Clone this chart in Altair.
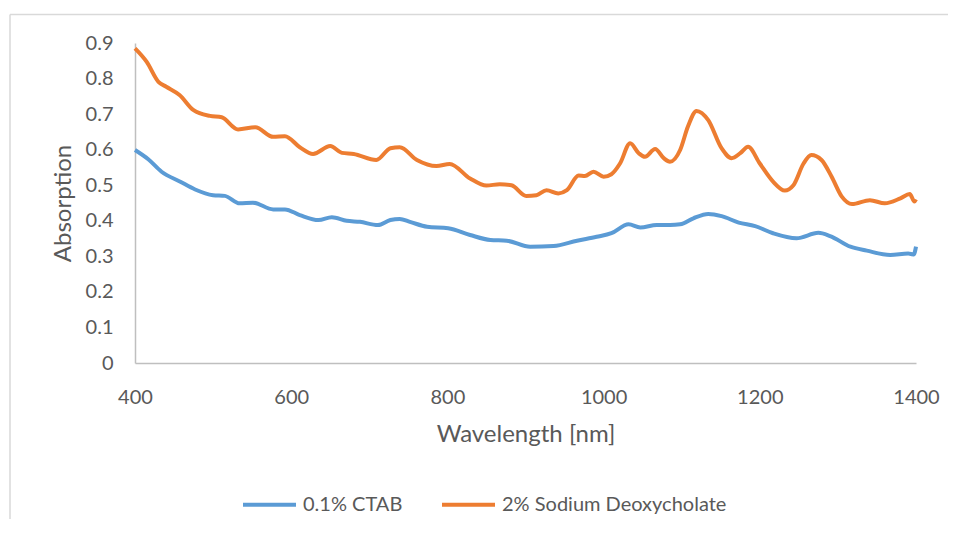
import altair as alt
import pandas as pd

series_names = ["0.1% CTAB", "2% Sodium Deoxycholate"]
series_colors = ["#5B9BD5", "#ED7D31"]

wl_ctab = [400, 417, 434, 458, 477, 500, 515, 534, 551, 577, 592, 611, 635, 652, 671, 688,
           711, 727, 739, 752, 774, 801, 829, 855, 876, 906, 936, 966, 991, 1010, 1032, 1047,
           1068, 1085, 1098, 1115, 1134, 1151, 1173, 1194, 1217, 1247, 1275, 1290, 1316, 1337,
           1367, 1390, 1395, 1397, 1400]
abs_ctab = [0.599, 0.573, 0.538, 0.510, 0.488, 0.472, 0.470, 0.449, 0.451, 0.432, 0.432, 0.416,
            0.402, 0.410, 0.400, 0.397, 0.388, 0.402, 0.405, 0.397, 0.383, 0.379, 0.360, 0.346,
            0.344, 0.327, 0.329, 0.344, 0.355, 0.365, 0.390, 0.381, 0.388, 0.388, 0.390, 0.407,
            0.419, 0.413, 0.395, 0.385, 0.365, 0.351, 0.366, 0.357, 0.327, 0.316, 0.304, 0.308,
            0.306, 0.305, 0.327]

wl_sdc = [400, 415, 430, 440, 457, 475, 496, 511, 532, 554, 577, 592, 611, 628, 650, 665, 680,
          709, 727, 739, 761, 786, 803, 829, 850, 867, 882, 901, 914, 927, 942, 953, 968, 976,
          987, 1000, 1010, 1021, 1034, 1045, 1053, 1066, 1077, 1085, 1098, 1108, 1119, 1134,
          1151, 1164, 1175, 1185, 1200, 1217, 1232, 1243, 1256, 1266, 1279, 1292, 1305, 1318,
          1341, 1360, 1380, 1392, 1398, 1400]
abs_sdc = [0.885, 0.847, 0.791, 0.777, 0.754, 0.711, 0.695, 0.691, 0.657, 0.663, 0.636, 0.638,
           0.607, 0.588, 0.610, 0.591, 0.588, 0.571, 0.604, 0.607, 0.571, 0.554, 0.560, 0.519,
           0.499, 0.503, 0.500, 0.470, 0.472, 0.486, 0.477, 0.486, 0.527, 0.526, 0.538, 0.524,
           0.531, 0.561, 0.618, 0.590, 0.580, 0.602, 0.576, 0.566, 0.599, 0.665, 0.709, 0.683,
           0.604, 0.576, 0.590, 0.608, 0.561, 0.510, 0.485, 0.500, 0.561, 0.585, 0.571, 0.524,
           0.468, 0.447, 0.458, 0.449, 0.463, 0.475, 0.454, 0.460]

x_ticks = [400, 600, 800, 1000, 1200, 1400]
y_ticks = [0, 0.1, 0.2, 0.3, 0.4, 0.5, 0.6, 0.7, 0.8, 0.9]

df = pd.concat([
    pd.DataFrame({"wavelength": wl_ctab, "absorption": abs_ctab, "series": series_names[0]}),
    pd.DataFrame({"wavelength": wl_sdc, "absorption": abs_sdc, "series": series_names[1]}),
])

FONT = "Lato"
TXT = "#595959"
AXC = "#BFBFBF"

lines = alt.Chart(df).mark_line(strokeWidth=4, interpolate="monotone").encode(
    x=alt.X("wavelength:Q",
            scale=alt.Scale(domain=[400, 1400], nice=False, zero=False),
            axis=alt.Axis(values=x_ticks, format="d", labelFlush=False,
                          title="Wavelength [nm]", ticks=False, tickSize=0,
                          grid=False, domainColor=AXC, domainWidth=1.5,
                          labelFont=FONT, labelFontSize=20, labelColor=TXT, labelPadding=24,
                          titleFont=FONT, titleFontSize=24, titleColor=TXT,
                          titleFontWeight="normal", titlePadding=15)),
    y=alt.Y("absorption:Q",
            scale=alt.Scale(domain=[0, 0.9], nice=False),
            axis=alt.Axis(values=y_ticks, format="~g", labelFlush=False,
                          title="Absorption", ticks=False,
                          tickSize=0, grid=False, domainColor=AXC, domainWidth=1.5,
                          labelFont=FONT, labelFontSize=20, labelColor=TXT, labelPadding=22,
                          titleFont=FONT, titleFontSize=24, titleColor=TXT,
                          titleFontWeight="normal", titlePadding=10)),
    color=alt.Color("series:N",
                    scale=alt.Scale(domain=series_names, range=series_colors),
                    legend=alt.Legend(title=None, orient="none", legendX=106, legendY=433,
                                      direction="horizontal", symbolType="stroke",
                                      symbolSize=2809, symbolStrokeWidth=4,
                                      labelFont=FONT, labelFontSize=20, labelColor=TXT,
                                      labelLimit=0, labelOffset=5, columnPadding=31,
                                      padding=0)),
)

frame_df = pd.DataFrame({"frame": [0]})
frame_left = alt.Chart(frame_df).mark_rule(color="#D9D9D9", strokeWidth=1.5).encode(
    x=alt.value(-125), y=alt.value(-28.5), y2=alt.value(480))
frame_top = alt.Chart(frame_df).mark_rule(color="#D9D9D9", strokeWidth=1.5).encode(
    x=alt.value(-125), x2=alt.value(820), y=alt.value(-28.5))

chart = alt.layer(frame_left, frame_top, lines).properties(
    width=781, height=320,
    autosize=alt.AutoSizeParams(type="none"),
    padding={"left": 127, "top": 35, "right": 32, "bottom": 156},
).configure_view(stroke=None)

chart.save("out.html", embed_options={"renderer": "svg", "actions": False})
